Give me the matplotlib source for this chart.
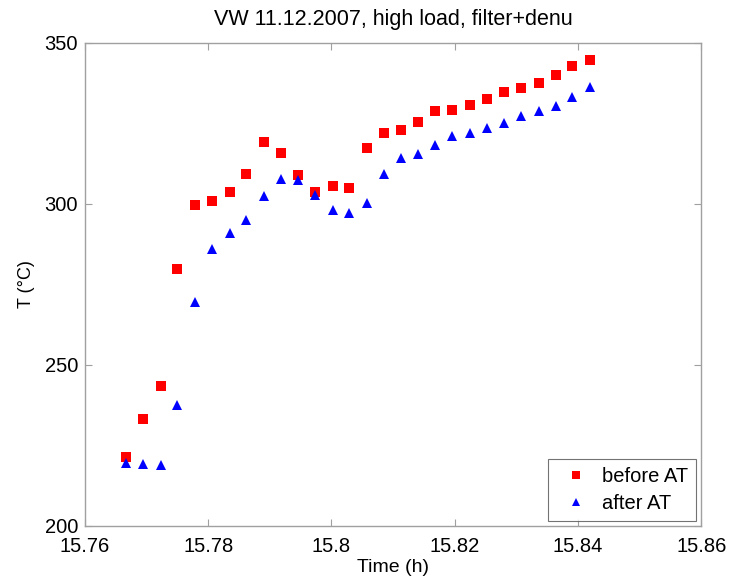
import numpy as np
import matplotlib as mpl
mpl.use('Agg')
import matplotlib.pyplot as plt

plt.rcParams['font.family'] = ['Liberation Sans', 'DejaVu Sans']

# time (h), one reading about every 10 s
time_h = [15.7667, 15.7695, 15.7723, 15.7750, 15.7778, 15.7807, 15.7835,
          15.7862, 15.7890, 15.7918, 15.7945, 15.7973, 15.8002, 15.8029,
          15.8057, 15.8085, 15.8113, 15.8140, 15.8168, 15.8196, 15.8224,
          15.8253, 15.8280, 15.8308, 15.8336, 15.8364, 15.8391, 15.8420]

before_at = [221.4, 233.2, 243.3, 279.8, 299.7, 300.7, 303.5, 309.3, 319.2,
             315.6, 308.8, 303.5, 305.6, 304.9, 317.3, 322.0, 322.8, 325.3,
             328.8, 329.1, 330.6, 332.4, 334.7, 335.8, 337.4, 340.0, 342.7,
             344.5]

after_at = [219.4, 219.1, 218.9, 237.4, 269.6, 286.1, 291.0, 294.8, 302.3,
            307.7, 307.5, 302.6, 298.0, 297.1, 300.2, 309.3, 314.1, 315.4,
            318.1, 321.0, 322.0, 323.6, 325.2, 327.2, 328.8, 330.3, 333.0,
            336.1]

xticks = [15.76, 15.78, 15.8, 15.82, 15.84, 15.86]
xticklabels = ['15.76', '15.78', '15.8', '15.82', '15.84', '15.86']
yticks = [200, 250, 300, 350]

fig = plt.figure(figsize=(7.32, 5.84), dpi=100)
ax = fig.add_axes([0.116, 0.0995, 0.842, 0.8275])

ax.plot(time_h, before_at, 's', color='#ff0000', markersize=6.5,
        markeredgewidth=0, label='before AT')
ax.plot(time_h, after_at, '^', color='#0000ff', markersize=7.5,
        markeredgewidth=0, label='after AT')

ax.set_xlim(15.76, 15.86)
ax.set_ylim(200, 350)
ax.set_xticks(xticks)
ax.set_xticklabels(xticklabels)
ax.set_yticks(yticks)

for s in ax.spines.values():
    s.set_color('#a0a0a0')
    s.set_linewidth(1.0)
ax.tick_params(direction='in', top=True, right=True, length=5,
               color='#a0a0a0', labelsize=14.5, labelcolor='black')
ax.tick_params(axis='x', pad=8)
ax.tick_params(axis='y', pad=5)

ax.set_title('VW 11.12.2007, high load, filter+denu', fontsize=15.5, pad=13)
ax.set_xlabel('Time (h)', fontsize=14, labelpad=2)
ax.set_ylabel('T (°C)', fontsize=13, labelpad=7)

leg = ax.legend(loc='lower right', fontsize=14.5, frameon=True, fancybox=False,
                handlelength=2.0, handletextpad=0.3, borderpad=0.4,
                labelspacing=0.4, borderaxespad=0.25, markerscale=0.85)
leg.get_frame().set_edgecolor('#505050')
leg.get_frame().set_linewidth(0.8)

plt.savefig('out.png', dpi=100)
